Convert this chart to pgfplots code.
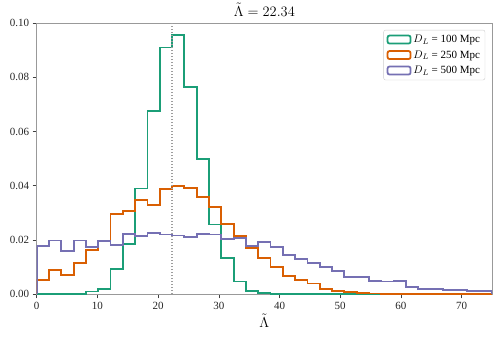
\documentclass[border=0pt]{standalone}
\usepackage{pgfplots}
\usepackage{pgfplotstable}
\usepackage{fontspec}
\setmainfont{Liberation Serif}
\pgfplotsset{compat=1.18}

\definecolor{cgreen}{HTML}{1B9E77}
\definecolor{corange}{HTML}{D95F02}
\definecolor{cpurple}{HTML}{7570B3}

% bin edges: 37 bins over [0,75]; first/last rows close the outline at the baseline
\pgfplotstableread{
x      g       o       p
0      0       0       0
0      0       0.0052  0.0177
2.027  0       0.0090  0.0198
4.054  0       0.0072  0.0160
6.081  0       0.0115  0.0198
8.108  0.0010  0.0164  0.0175
10.135 0.0020  0.0198  0.0195
12.162 0.0093  0.0296  0.0183
14.189 0.0185  0.0307  0.0222
16.216 0.0390  0.0348  0.0216
18.243 0.0675  0.0328  0.0227
20.270 0.0910  0.0388  0.0220
22.297 0.0955  0.0398  0.0217
24.324 0.0765  0.0393  0.0211
26.351 0.0500  0.0360  0.0222
28.378 0.0257  0.0323  0.0220
30.405 0.0133  0.0259  0.0205
32.432 0.0047  0.0214  0.0206
34.459 0.0013  0.0172  0.0178
36.486 0.0006  0.0133  0.0194
38.514 0.0002  0.0101  0.0175
40.541 0       0.0068  0.0146
42.568 0       0.0052  0.0130
44.595 0       0.0040  0.0115
46.622 0       0.0018  0.0101
48.649 0       0.0013  0.0086
50.676 0       0.0009  0.0064
52.703 0       0.0006  0.0064
54.730 0       0.0003  0.0049
56.757 0       0.0001  0.0047
58.784 0       0       0.0049
60.811 0       0       0.0028
62.838 0       0       0.0020
64.865 0       0       0.0020
66.892 0       0       0.0016
68.919 0       0       0.0016
70.946 0       0       0.0011
72.973 0       0       0.0011
75     0       0       0.0011
75     0       0       0
}\hist

\begin{document}
\begin{tikzpicture}
\begin{axis}[
  width=455pt, height=271pt, scale only axis,
  xmin=0, xmax=75, ymin=0, ymax=0.1,
  xtick={0,10,...,70},
  ytick={0,0.02,...,0.1},
  scaled y ticks=false,
  yticklabel style={/pgf/number format/.cd, fixed, fixed zerofill, precision=2},
  /pgf/number format/assume math mode=true,
  tick label style={font=\fontsize{11}{13}\selectfont, text=black!85},
  axis line style={black!40, line width=0.8pt},
  tick align=outside, xtick pos=bottom, ytick pos=left,
  major tick length=4pt,
  tick style={black!75, line width=0.6pt},
  title={$\tilde{\Lambda} = 22.34$},
  title style={font=\fontsize{13.5}{15}\selectfont, yshift=-3pt},
  xlabel={$\tilde{\Lambda}$},
  xlabel style={font=\fontsize{13.5}{15}\selectfont, yshift=2pt},
  legend style={at={(0.985,0.975)}, anchor=north east, draw=black!20,
    rounded corners=2pt, font=\fontsize{11}{13}\selectfont,
    row sep=2.5pt, inner sep=3pt},
  legend cell align=left,
  legend image code/.code={\draw[#1] (0pt,-4pt) rectangle (23pt,4pt);},
]
\addplot[const plot, cgreen, line width=1.8pt] table[x=x, y=g] {\hist};
\addlegendentry{$D_L$ = 100 Mpc}
\addplot[const plot, corange, line width=1.8pt] table[x=x, y=o] {\hist};
\addlegendentry{$D_L$ = 250 Mpc}
\addplot[const plot, cpurple, line width=1.8pt] table[x=x, y=p] {\hist};
\addlegendentry{$D_L$ = 500 Mpc}
\addplot[forget plot, black!38, line width=1.8pt,
  dash pattern=on 1.4pt off 1.6pt]
  coordinates {(22.34,0) (22.34,0.1)};
\end{axis}
\path (current axis.south west) ++(-36.7pt,-42pt);
\path (current axis.north east) ++(6pt,19.3pt);
\end{tikzpicture}
\end{document}
